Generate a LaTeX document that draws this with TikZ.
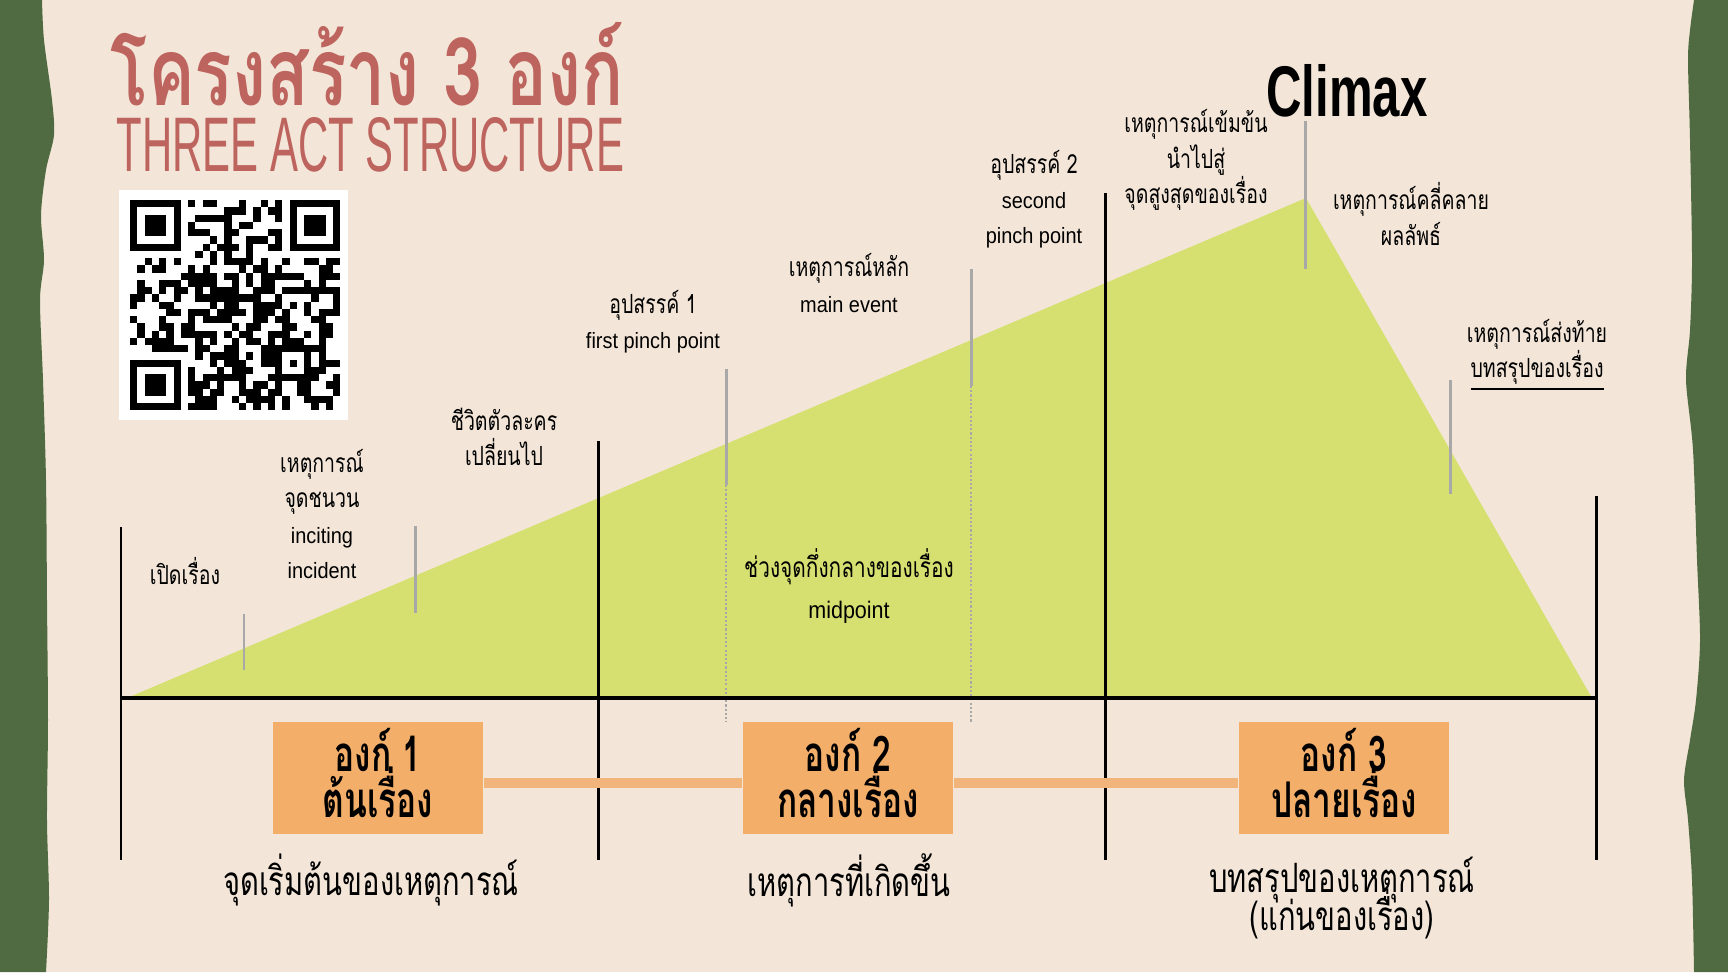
\documentclass[tikz,border=0pt]{standalone}
\usepackage{fontspec}
\usepackage{graphicx}
\setmainfont{Liberation Sans}
\newfontfamily\thfont[Script=Thai]{Loma}
\newfontfamily\thlab[Script=Thai,FakeStretch=0.74]{Loma}
\newfontfamily\thcond[Script=Thai,FakeStretch=0.72]{Loma}
\newfontfamily\thact[Script=Thai,FakeStretch=0.68]{Loma}
\newfontfamily\latlab[FakeStretch=0.9]{Liberation Sans}

\definecolor{paper}{HTML}{F3E6D8}
\definecolor{bordergreen}{HTML}{506B41}
\definecolor{titlerose}{HTML}{BE645F}
\definecolor{peakgreen}{HTML}{D6E070}
\definecolor{actorange}{HTML}{F3AE69}
\definecolor{barorange}{HTML}{F1B47A}
\definecolor{markgray}{HTML}{A8A8A8}

\tikzset{
  evt/.style={align=center, inner sep=0pt, font=\thlab\fontsize{7.5}{10}\selectfont},
  act/.style={fill=actorange, minimum width=2.1cm, minimum height=1.11cm, inner sep=0pt},
  acttext/.style={align=center, inner sep=0pt, font=\thact\bfseries\fontsize{14}{13}\selectfont,
    execute at begin node={\setlength\lineskiplimit{-20pt}}},
  actcap/.style={align=center, inner sep=0pt, font=\thcond\fontsize{11.5}{10.7}\selectfont,
    execute at begin node={\setlength\lineskiplimit{-20pt}}},
  divider/.style={line width=0.85pt},
  marker/.style={draw=markgray, line width=0.85pt},
  guide/.style={draw=markgray, line width=0.55pt, dash pattern=on 0.6pt off 0.6pt},
  actbar/.style={draw=barorange, line width=2.6pt},
}

\begin{document}
\begin{tikzpicture}[x=0.01cm, y=-0.01cm]
  \useasboundingbox (0,0) rectangle (1728,972);
  %Fond
  \fill[paper] (0,0) rectangle (1728,972);
  \fill[bordergreen] plot[smooth] coordinates {(42,0) (44,40) (52,100) (54,135) (46,170) (41,215) (44,260) (40,300) (43,380) (46,480) (47,600) (48,720) (47,820) (49,900) (46,972)} -- (0,972) -- (0,0) -- cycle;
  \fill[bordergreen] plot[smooth] coordinates {(1694,0) (1690,30) (1688,60) (1690,140) (1692,260) (1690,330) (1686,380) (1693,450) (1697,560) (1700,640) (1696,700) (1690,740) (1684,780) (1688,820) (1692,880) (1694,972)} -- (1728,972) -- (1728,0) -- cycle;

  %Titre
  \node[anchor=base west, inner sep=0pt, text=titlerose] (T1) at (110,105)
    {\raisebox{0pt}[\height][0pt]{\resizebox{5.13cm}{0.83cm}{\thfont\bfseries โครงสร้าง 3 องก์}}};
  \node[anchor=base west, inner sep=0pt, text=titlerose] (T2) at (116,171)
    {\resizebox{5.07cm}{0.54cm}{THREE ACT STRUCTURE}};

  %Code QR
  \fill[white] (119,190) rectangle (348,420);
  \pgfmathsetseed{1234}
  \foreach \i in {0,...,28}{
    \foreach \j in {0,...,28}{
      \pgfmathtruncatemacro\qrfree{((\i<8 && \j<8) || (\i>20 && \j<8) || (\i<8 && \j>20) || (\i>19 && \i<25 && \j>19 && \j<25)) ? 0 : 1}
      \pgfmathrandominteger{\qrbit}{0}{1}
      \ifnum\qrfree\qrbit=11 \fill (130+7.25*\i,200+7.25*\j) rectangle ++(7.25,7.25);\fi
    }
  }
  \foreach \a/\b in {0/0, 22/0, 0/22}{
    \fill (130+7.25*\a,200+7.25*\b) rectangle ++(50.75,50.75);
    \fill[white] (137.25+7.25*\a,207.25+7.25*\b) rectangle ++(36.25,36.25);
    \fill (144.5+7.25*\a,214.5+7.25*\b) rectangle ++(21.75,21.75);
  }
  \fill (275,345) rectangle ++(36.25,36.25);
  \fill[white] (282.25,352.25) rectangle ++(21.75,21.75);
  \fill (289.5,359.5) rectangle ++(7.25,7.25);

  %Courbe
  \fill[peakgreen] (127,698) -- (1306,198) -- (1592,698) -- cycle;
  \draw[guide] (726,485) -- (726,722);
  \draw[guide] (971,386) -- (971,722);
  \draw[marker] (244,614) -- (244,670);
  \draw[marker] (415,526) -- (415,613);
  \draw[marker] (726,369) -- (726,485);
  \draw[marker] (971,269) -- (971,386);
  \draw[marker] (1305,121) -- (1305,269);
  \draw[marker] (1450,380) -- (1450,494);

  %Axes
  \draw[line width=1pt] (121,698) -- (1596,698);
  \foreach \x/\t in {121/527, 598/441, 1105/193, 1596/496}
    \draw[divider] (\x,\t) -- (\x,860);

  %Evenements
  \node[evt] (E1) at (185,571) {เปิดเรื่อง};
  \node[evt] (E2) at (322,514) {เหตุการณ์\\จุดชนวน\\{\latlab\fontsize{6.3}{10}\selectfont inciting}\\{\latlab\fontsize{6.3}{10}\selectfont incident}};
  \node[evt] (E3) at (504,437) {ชีวิตตัวละคร\\เปลี่ยนไป};
  \node[evt] (E4) at (653,322) {อุปสรรค์ 1\\{\latlab\fontsize{6.3}{10}\selectfont first pinch point}};
  \node[evt] (E5) at (849,283) {เหตุการณ์หลัก\\{\latlab\fontsize{6.3}{10}\selectfont main event}};
  \node[evt] (E6) at (1034,199) {อุปสรรค์ 2\\{\latlab\fontsize{6.3}{10}\selectfont second}\\{\latlab\fontsize{6.3}{10}\selectfont pinch point}};
  \node[evt] (E7) at (1196,160) {เหตุการณ์เข้มข้น\\นำไปสู่\\จุดสูงสุดของเรื่อง};
  \node[anchor=base, inner sep=0pt] (E8) at (1347,116) {\resizebox{1.61cm}{0.52cm}{\bfseries Climax}};
  \node[evt] (E9) at (1411,214) {เหตุการณ์คลี่คลาย\\ผลลัพธ์};
  \node[evt] (E10) at (1537,355) {เหตุการณ์ส่งท้าย\\\underline{บทสรุปของเรื่อง}};
  \node[evt, font=\thlab\fontsize{8}{11.4}\selectfont] (E11) at (849,586) {ช่วงจุดกึ่งกลางของเรื่อง\\{\latlab\fontsize{6.8}{11.4}\selectfont midpoint}};

  %Actes
  \node[act] (A1) at (378,778) {};
  \node[act] (A2) at (848,778) {};
  \node[act] (A3) at (1344,778) {};
  \node[acttext, anchor=base] (A1t) at (378,817) {องก์ 1\\ต้นเรื่อง};
  \node[acttext, anchor=base] (A2t) at (848,817) {องก์ 2\\กลางเรื่อง};
  \node[acttext, anchor=base] (A3t) at (1344,817) {องก์ 3\\ปลายเรื่อง};
  \draw[actbar] ([yshift=-0.05cm]A1.east) -- ([yshift=-0.05cm]A2.west);
  \draw[actbar] ([yshift=-0.05cm]A2.east) -- ([yshift=-0.05cm]A3.west);
  \node[actcap] (C1) at (371,880) {จุดเริ่มต้นของเหตุการณ์};
  \node[actcap] (C2) at (849,880) {เหตุการที่เกิดขึ้น};
  \node[actcap] (C3) at (1342,898) {บทสรุปของเหตุการณ์\\(แก่นของเรื่อง)};
\end{tikzpicture}
\end{document}
